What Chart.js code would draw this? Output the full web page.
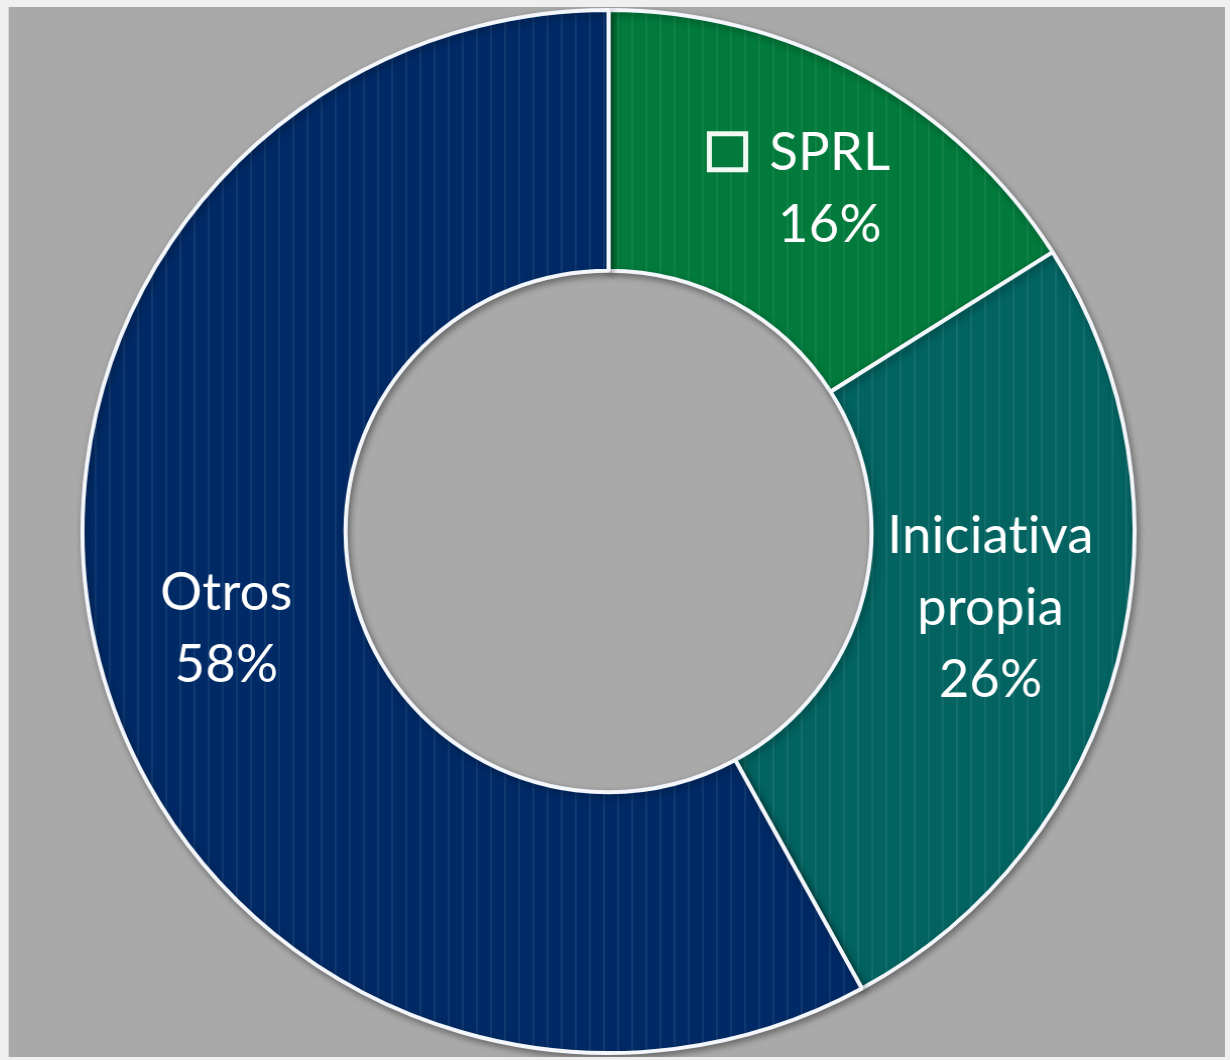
<!DOCTYPE html>
<html>
<head>
<meta charset="utf-8">
<script src="https://cdn.jsdelivr.net/npm/chart.js@4"></script>
<style>
  html, body { margin: 0; padding: 0; background: #efefef; }
  #wrap {
    position: absolute; left: 8px; top: 7px;
    width: 1217px; height: 1050px;
    background: #a9a9a9;
    border-left: 1px solid #d8d8d8;
    box-sizing: border-box;
  }
  /* the original picture is a touch wider than tall */
  #myChart { transform: scaleX(1.0086); transform-origin: 599.5px 50%; }
</style>
</head>
<body>
<div id="wrap"><canvas id="myChart"></canvas></div>
<script>
// data
const categories = ['SPRL', 'Iniciativa propia', 'Otros'];
const values = [16, 26, 58];
const showKey = [true, false, false];

const baseColors = ['#017a3b', '#026361', '#002a66'];

// faint vertical stripes like the original fill
function stripes(color) {
  const c = document.createElement('canvas');
  c.width = 14;
  c.height = 4;
  const g = c.getContext('2d');
  g.fillStyle = color;
  g.fillRect(0, 0, 14, 4);
  g.fillStyle = 'rgba(255,255,255,0.07)';
  g.fillRect(6, 0, 2, 4);
  return g.createPattern(c, 'repeat');
}

const lineHeight = 72;

const shadowPlugin = {
  id: 'ringShadow',
  beforeDatasetsDraw(chart) {
    const ctx = chart.ctx;
    ctx.save();
    ctx.shadowColor = 'rgba(0,0,0,0.35)';
    ctx.shadowBlur = 7;
    ctx.shadowOffsetX = 2;
    ctx.shadowOffsetY = 3;
  },
  afterDatasetsDraw(chart) {
    chart.ctx.restore();
  }
};

const labelPlugin = {
  id: 'sliceLabels',
  afterDatasetsDraw(chart) {
    const ctx = chart.ctx;
    const meta = chart.getDatasetMeta(0);
    ctx.save();
    ctx.font = '52px Lato';
    ctx.letterSpacing = '0.3px'; // also stops the "ti" ligature
    ctx.fillStyle = '#ffffff';
    ctx.textAlign = 'center';
    ctx.textBaseline = 'middle';
    meta.data.forEach((arc, i) => {
      const pos = arc.tooltipPosition();
      let lines = categories[i].split(' ');
      lines.push(values[i] + '%');
      let x = pos.x;
      let y = pos.y;
      if (i === 1) y -= 21; // excel nudged this one up a bit
      const keySize = 41;
      const keyGap = 21;
      if (showKey[i]) x += (keySize + keyGap) / 2;
      const top = y - (lines.length - 1) * lineHeight / 2;
      lines.forEach((t, k) => {
        ctx.fillText(t, x, top + k * lineHeight);
      });
      if (showKey[i]) {
        const w = ctx.measureText(lines[0]).width;
        const kx = x - w / 2 - keyGap - keySize;
        const ky = top - keySize / 2 - 1;
        ctx.fillStyle = baseColors[i];
        ctx.fillRect(kx, ky, keySize, keySize);
        ctx.strokeStyle = '#f2f8f4';
        ctx.lineWidth = 5;
        ctx.strokeRect(kx + 2.5, ky + 2.5, keySize - 5, keySize - 5);
        ctx.fillStyle = '#ffffff';
      }
    });
    ctx.restore();
  }
};

const chartData = {
  labels: categories,
  datasets: [
    {
      data: values,
      backgroundColor: baseColors.map(stripes),
      borderColor: '#f3f6fa',
      borderWidth: 4,
      hoverOffset: 0,
      offset: 0,
    },
  ],
};

const chartConfig = {
  type: 'doughnut',
  data: chartData,
  options: {
    responsive: true,
    maintainAspectRatio: false,
    animation: false,
    cutout: '50%',
    rotation: 0,
    layout: { padding: { top: 1, bottom: 2, left: 0, right: 17 } },
    plugins: {
      legend: { display: false },
      tooltip: { enabled: false },
    },
  },
  plugins: [shadowPlugin, labelPlugin],
};

new Chart(document.getElementById('myChart'), chartConfig);
</script>
</body>
</html>
